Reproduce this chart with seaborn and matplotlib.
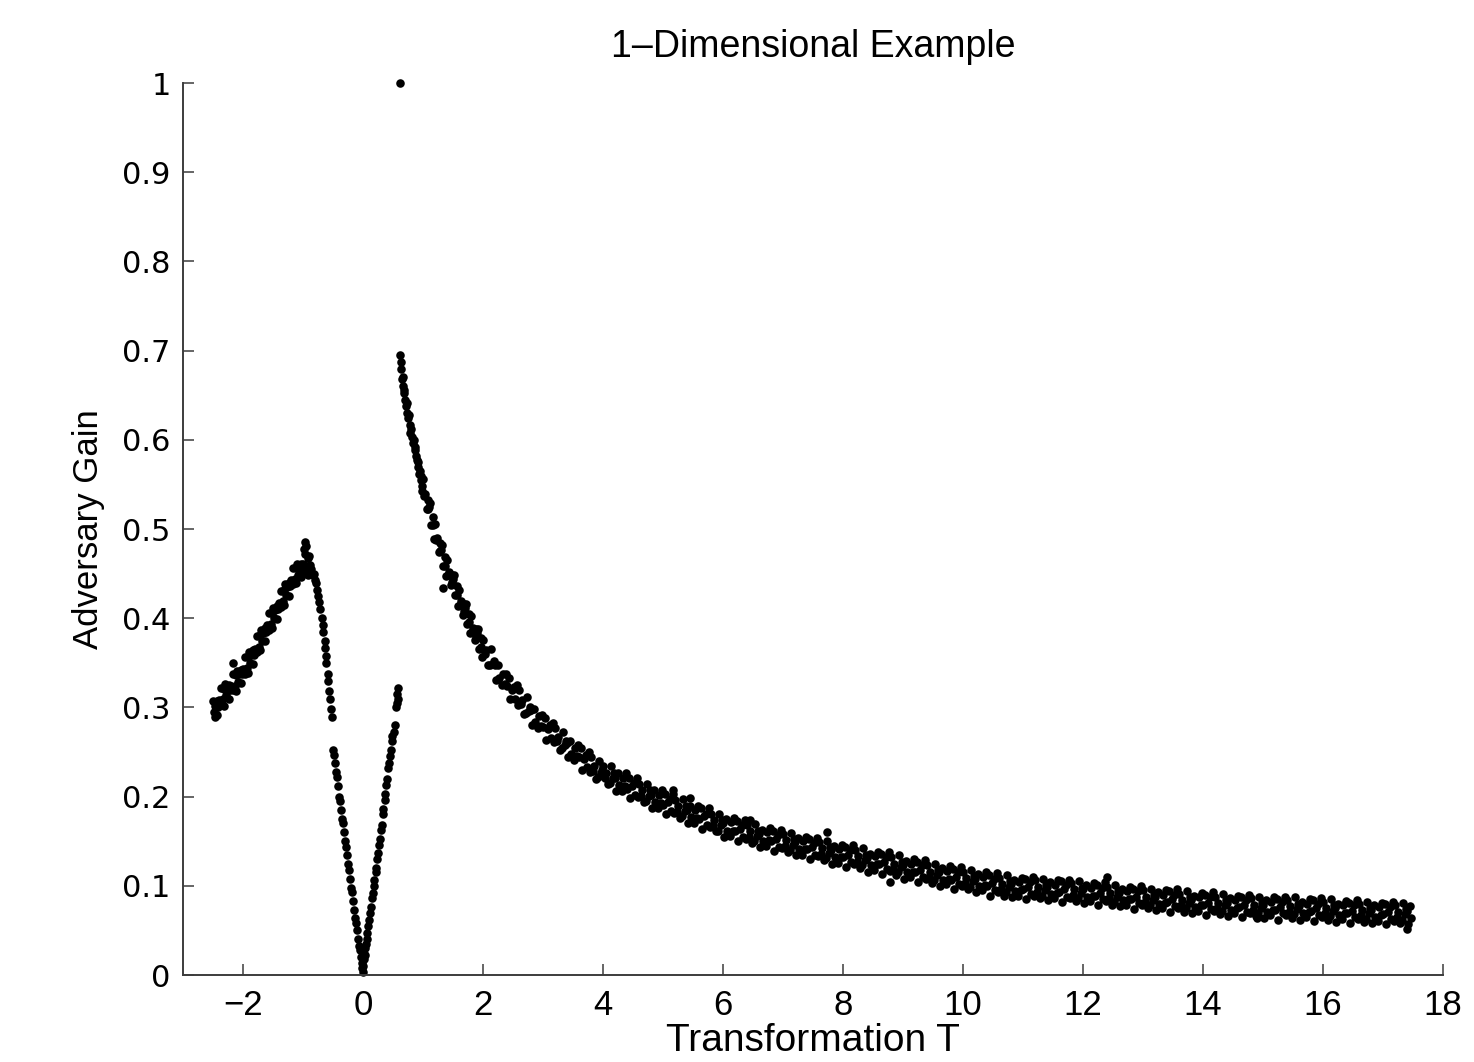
import pandas as pd
import matplotlib
matplotlib.use("Agg")
import matplotlib.pyplot as plt
import seaborn as sns

# values (T, adversary gain)
left_rise = [
    (-2.50, .307), (-2.48, .295), (-2.46, .302), (-2.44, .292), (-2.43, .307), (-2.41, .301),
    (-2.40, .308), (-2.37, .322), (-2.36, .303), (-2.34, .309), (-2.32, .321), (-2.31, .302),
    (-2.30, .326), (-2.28, .314), (-2.26, .323), (-2.24, .310), (-2.23, .325), (-2.21, .319),
    (-2.20, .324), (-2.17, .337), (-2.16, .319), (-2.14, .324), (-2.12, .336), (-2.11, .318),
    (-2.10, .341), (-2.08, .329), (-2.06, .338), (-2.04, .327), (-2.03, .342), (-2.01, .338),
    (-2.00, .343), (-1.97, .357), (-1.96, .338), (-1.94, .344), (-1.92, .356), (-1.91, .339),
    (-1.90, .362), (-1.88, .350), (-1.86, .359), (-1.84, .349), (-1.83, .364), (-1.81, .359),
    (-1.80, .366), (-1.77, .380), (-1.76, .362), (-1.74, .368), (-1.72, .381), (-1.71, .364),
    (-1.70, .387), (-1.68, .375), (-1.66, .384), (-1.64, .374), (-1.63, .389), (-1.61, .385),
    (-1.60, .392), (-1.57, .406), (-1.56, .387), (-1.54, .394), (-1.52, .406), (-1.51, .389),
    (-1.50, .412), (-1.48, .400), (-1.46, .409), (-1.44, .399), (-1.43, .414), (-1.41, .410),
    (-1.40, .417), (-1.37, .431), (-1.36, .413), (-1.34, .419), (-1.32, .432), (-1.31, .415),
    (-1.30, .438), (-1.28, .426), (-1.26, .435), (-1.24, .425), (-1.23, .440), (-1.21, .436),
    (-1.20, .443), (-1.17, .456), (-1.16, .438), (-1.14, .444), (-1.12, .456), (-1.11, .439),
    (-1.10, .461), (-1.08, .449), (-1.06, .456), (-1.04, .446), (-1.03, .461), (-1.01, .455),
    (-1.00, .461), (-0.97, .472), (-0.96, .452), (-0.94, .458), (-0.92, .468), (-0.91, .448),
    (-0.97, .486), (-0.95, .481), (-0.98, .478), (-0.90, .470), (-0.88, .460), (-0.86, .455),
    (-0.84, .448), (-2.17, .350), (-2.46, .289),
]

left_fall = [
    (-0.82, .450), (-0.80, .443), (-0.78, .440), (-0.76, .432), (-0.75, .425), (-0.73, .418),
    (-0.71, .410), (-0.69, .400), (-0.67, .392), (-0.66, .385), (-0.64, .375), (-0.63, .367),
    (-0.62, .358), (-0.61, .350), (-0.59, .338), (-0.58, .330), (-0.56, .318), (-0.55, .310),
    (-0.53, .298), (-0.52, .289), (-0.50, .252), (-0.49, .247), (-0.47, .238), (-0.45, .228),
    (-0.44, .222), (-0.42, .212), (-0.40, .200), (-0.39, .195), (-0.37, .185), (-0.35, .175),
    (-0.34, .170), (-0.32, .160), (-0.30, .150), (-0.29, .144), (-0.27, .135), (-0.25, .124),
    (-0.24, .118), (-0.22, .108), (-0.20, .098), (-0.19, .093), (-0.17, .083), (-0.15, .073),
    (-0.13, .064), (-0.12, .058), (-0.10, .050), (-0.08, .040), (-0.06, .033), (-0.05, .028),
    (-0.03, .020), (-0.02, .014), (-0.01, .008), (0.00, .003),
]

v_right = [
    (0.00, .010), (0.01, .018), (0.02, .024), (0.03, .030), (0.04, .022), (0.05, .035),
    (0.06, .040), (0.07, .047), (0.09, .055), (0.10, .062), (0.12, .070), (0.13, .076),
    (0.15, .086), (0.16, .092), (0.18, .100), (0.19, .106), (0.21, .115), (0.22, .120),
    (0.24, .130), (0.25, .137), (0.27, .146), (0.28, .152), (0.30, .163), (0.31, .168),
    (0.33, .180), (0.34, .186), (0.36, .196), (0.37, .203), (0.39, .213), (0.40, .220),
    (0.42, .232), (0.43, .238), (0.45, .246), (0.46, .252), (0.48, .262), (0.49, .268),
    (0.51, .272), (0.53, .280), (0.55, .300), (0.56, .305), (0.57, .315), (0.58, .322),
    (0.59, .310),
]

top_point = [(0.62, 1.0)]

head = [
    (0.62, .695), (0.63, .687), (0.64, .679), (0.65, .668), (0.66, .671), (0.67, .660),
    (0.68, .652), (0.69, .656), (0.70, .645), (0.71, .638), (0.73, .641), (0.74, .630),
    (0.75, .624), (0.77, .628), (0.78, .617), (0.79, .608), (0.80, .612), (0.82, .603),
    (0.83, .596), (0.85, .600), (0.86, .589), (0.87, .592), (0.88, .582), (0.90, .577),
    (0.91, .569), (0.92, .575), (0.93, .562), (0.95, .565), (0.96, .555), (0.97, .560),
    (0.98, .548), (0.99, .543),
]

band_1_2 = [
    (1.00, .556), (1.02, .537), (1.04, .539), (1.06, .522), (1.08, .532), (1.09, .523),
    (1.10, .525), (1.12, .529), (1.14, .505), (1.16, .504), (1.17, .513), (1.19, .489),
    (1.20, .506), (1.22, .488), (1.24, .490), (1.26, .474), (1.28, .484), (1.29, .475),
    (1.30, .477), (1.32, .482), (1.34, .459), (1.36, .459), (1.37, .469), (1.39, .447),
    (1.40, .465), (1.42, .448), (1.44, .452), (1.46, .437), (1.48, .449), (1.49, .441),
    (1.50, .444), (1.52, .449), (1.54, .426), (1.56, .426), (1.57, .436), (1.59, .414),
    (1.60, .432), (1.62, .415), (1.64, .419), (1.66, .404), (1.68, .416), (1.69, .408),
    (1.70, .411), (1.72, .416), (1.74, .394), (1.76, .396), (1.77, .405), (1.79, .383),
    (1.80, .402), (1.82, .385), (1.84, .389), (1.86, .376), (1.88, .388), (1.89, .379),
    (1.90, .383), (1.92, .388), (1.94, .366), (1.96, .368), (1.97, .378), (1.99, .356),
    (1.33, .434),
]

band_2_4 = [
    (2.00, .376), (2.03, .360), (2.05, .364), (2.08, .348), (2.11, .348), (2.13, .365),
    (2.16, .349), (2.19, .352), (2.20, .348), (2.22, .331), (2.25, .348), (2.27, .333),
    (2.31, .325), (2.34, .337), (2.36, .326), (2.38, .338), (2.40, .324), (2.43, .333),
    (2.45, .309), (2.49, .320), (2.52, .323), (2.54, .309), (2.57, .325), (2.59, .303),
    (2.60, .319), (2.63, .304), (2.65, .308), (2.68, .293), (2.71, .294), (2.73, .312),
    (2.76, .296), (2.79, .300), (2.80, .297), (2.82, .280), (2.85, .298), (2.87, .284),
    (2.91, .277), (2.94, .290), (2.96, .279), (2.98, .292), (3.00, .278), (3.03, .288),
    (3.05, .264), (3.09, .276), (3.12, .280), (3.14, .266), (3.17, .283), (3.19, .261),
    (3.20, .277), (3.23, .262), (3.25, .267), (3.28, .252), (3.31, .254), (3.33, .272),
    (3.36, .258), (3.39, .262), (3.40, .260), (3.42, .244), (3.45, .262), (3.47, .248),
    (3.51, .241), (3.54, .255), (3.56, .245), (3.58, .258), (3.60, .244), (3.63, .254),
    (3.65, .230), (3.69, .242), (3.72, .247), (3.74, .233), (3.77, .250), (3.79, .228),
    (3.80, .244), (3.83, .229), (3.85, .234), (3.88, .220), (3.91, .222), (3.93, .240),
    (3.96, .226), (3.99, .230),
]

band_4_7 = [
    (4.00, .234), (4.03, .221), (4.05, .227), (4.08, .214), (4.11, .215), (4.13, .234),
    (4.16, .221), (4.19, .227), (4.20, .221), (4.22, .206), (4.25, .226), (4.27, .213),
    (4.31, .206), (4.34, .221), (4.36, .212), (4.38, .226), (4.40, .209), (4.43, .221),
    (4.45, .198), (4.49, .212), (4.52, .215), (4.54, .202), (4.57, .221), (4.59, .200),
    (4.60, .214), (4.63, .201), (4.65, .207), (4.68, .194), (4.71, .195), (4.73, .214),
    (4.76, .201), (4.79, .207), (4.80, .202), (4.82, .187), (4.85, .207), (4.87, .194),
    (4.91, .187), (4.94, .202), (4.96, .193), (4.98, .207), (5.00, .191), (5.03, .203),
    (5.05, .180), (5.09, .194), (5.12, .197), (5.14, .184), (5.17, .203), (5.19, .182),
    (5.20, .196), (5.23, .183), (5.25, .189), (5.28, .176), (5.31, .178), (5.33, .197),
    (5.36, .184), (5.39, .190), (5.40, .185), (5.42, .170), (5.45, .190), (5.47, .177),
    (5.51, .170), (5.54, .185), (5.56, .176), (5.58, .190), (5.60, .175), (5.63, .187),
    (5.65, .164), (5.69, .178), (5.72, .181), (5.74, .168), (5.77, .187), (5.79, .166),
    (5.80, .181), (5.83, .168), (5.85, .174), (5.88, .161), (5.91, .162), (5.93, .181),
    (5.96, .168), (5.99, .174), (6.00, .170), (6.02, .155), (6.05, .175), (6.07, .162),
    (6.11, .156), (6.14, .171), (6.16, .162), (6.18, .176), (6.20, .161), (6.23, .173),
    (6.25, .150), (6.29, .164), (6.32, .168), (6.34, .155), (6.37, .174), (6.39, .153),
    (6.40, .168), (6.43, .155), (6.45, .161), (6.48, .148), (6.51, .150), (6.53, .169),
    (6.56, .156), (6.59, .162), (6.60, .158), (6.62, .143), (6.65, .163), (6.67, .150),
    (6.71, .145), (6.74, .160), (6.76, .151), (6.78, .165), (6.80, .150), (6.83, .162),
    (6.85, .139), (6.89, .153), (6.92, .157), (6.94, .144), (6.97, .163), (6.99, .142),
    (5.17, .207), (5.45, .198), (6.45, .174),
]

band_7_10 = [
    (7.00, .158), (7.03, .145), (7.05, .151), (7.08, .138), (7.11, .140), (7.13, .159),
    (7.16, .146), (7.19, .152), (7.20, .149), (7.22, .134), (7.25, .154), (7.27, .141),
    (7.31, .135), (7.34, .150), (7.36, .141), (7.38, .155), (7.40, .141), (7.43, .153),
    (7.45, .130), (7.49, .144), (7.52, .148), (7.54, .135), (7.57, .154), (7.59, .133),
    (7.60, .149), (7.63, .136), (7.65, .142), (7.68, .129), (7.71, .131), (7.73, .150),
    (7.76, .137), (7.79, .143), (7.80, .140), (7.82, .125), (7.85, .145), (7.87, .132),
    (7.91, .126), (7.94, .141), (7.96, .132), (7.98, .146), (8.00, .132), (8.03, .144),
    (8.05, .121), (8.09, .135), (8.12, .140), (8.14, .127), (8.17, .146), (8.19, .125),
    (8.20, .140), (8.23, .127), (8.25, .133), (8.28, .120), (8.31, .123), (8.33, .142),
    (8.36, .129), (8.39, .135), (8.40, .131), (8.42, .116), (8.45, .136), (8.47, .123),
    (8.51, .118), (8.54, .133), (8.56, .124), (8.58, .138), (8.60, .124), (8.63, .136),
    (8.65, .113), (8.69, .127), (8.72, .132), (8.74, .119), (8.77, .138), (8.79, .117),
    (8.80, .132), (8.83, .119), (8.85, .125), (8.88, .112), (8.91, .115), (8.93, .134),
    (8.96, .121), (8.99, .127), (9.00, .123), (9.02, .108), (9.05, .128), (9.07, .115),
    (9.11, .110), (9.14, .125), (9.16, .116), (9.18, .130), (9.20, .115), (9.23, .127),
    (9.25, .104), (9.29, .118), (9.32, .123), (9.34, .110), (9.37, .129), (9.39, .108),
    (9.40, .123), (9.43, .110), (9.45, .116), (9.48, .103), (9.51, .106), (9.53, .125),
    (9.56, .112), (9.59, .118), (9.60, .115), (9.62, .100), (9.65, .120), (9.67, .107),
    (9.71, .102), (9.74, .117), (9.76, .108), (9.78, .122), (9.80, .107), (9.83, .119),
    (9.85, .096), (9.89, .110), (9.92, .115), (9.94, .102), (9.97, .121), (9.99, .100),
    (7.73, .160), (8.78, .104),
]

band_10_14 = [
    (10.00, .116), (10.03, .103), (10.05, .109), (10.08, .096), (10.11, .099), (10.13, .118),
    (10.16, .105), (10.19, .111), (10.20, .108), (10.22, .093), (10.25, .113), (10.27, .100),
    (10.31, .095), (10.34, .110), (10.36, .101), (10.38, .115), (10.40, .100), (10.43, .112),
    (10.45, .089), (10.49, .103), (10.52, .108), (10.54, .095), (10.57, .114), (10.59, .093),
    (10.60, .109), (10.63, .096), (10.65, .102), (10.68, .089), (10.71, .093), (10.73, .112),
    (10.76, .099), (10.79, .105), (10.80, .102), (10.82, .087), (10.85, .107), (10.87, .094),
    (10.91, .089), (10.94, .104), (10.96, .095), (10.98, .109), (11.00, .096), (11.03, .108),
    (11.05, .085), (11.09, .099), (11.12, .104), (11.14, .091), (11.17, .110), (11.19, .089),
    (11.20, .106), (11.23, .093), (11.25, .099), (11.28, .086), (11.31, .089), (11.33, .108),
    (11.36, .095), (11.39, .101), (11.40, .099), (11.42, .084), (11.45, .104), (11.47, .091),
    (11.51, .086), (11.54, .101), (11.56, .092), (11.58, .106), (11.60, .093), (11.63, .105),
    (11.65, .082), (11.69, .096), (11.72, .101), (11.74, .088), (11.77, .107), (11.79, .086),
    (11.80, .103), (11.83, .090), (11.85, .096), (11.88, .083), (11.91, .086), (11.93, .105),
    (11.96, .092), (11.99, .098), (12.00, .096), (12.02, .081), (12.05, .101), (12.07, .088),
    (12.11, .083), (12.14, .098), (12.16, .089), (12.18, .103), (12.20, .089), (12.23, .101),
    (12.25, .078), (12.29, .092), (12.32, .098), (12.34, .085), (12.37, .104), (12.39, .083),
    (12.40, .099), (12.43, .086), (12.45, .092), (12.48, .079), (12.51, .082), (12.53, .101),
    (12.56, .088), (12.59, .094), (12.60, .092), (12.62, .077), (12.65, .097), (12.67, .084),
    (12.71, .079), (12.74, .094), (12.76, .085), (12.78, .099), (12.80, .085), (12.83, .097),
    (12.85, .074), (12.89, .088), (12.92, .094), (12.94, .081), (12.97, .100), (12.99, .079),
    (13.00, .095), (13.03, .082), (13.05, .088), (13.08, .075), (13.11, .078), (13.13, .097),
    (13.16, .084), (13.19, .090), (13.20, .088), (13.22, .073), (13.25, .093), (13.27, .080),
    (13.31, .075), (13.34, .090), (13.36, .081), (13.38, .095), (13.40, .082), (13.43, .094),
    (13.45, .071), (13.49, .085), (13.52, .090), (13.54, .077), (13.57, .096), (13.59, .075),
    (13.60, .091), (13.63, .078), (13.65, .084), (13.68, .071), (13.71, .075), (13.73, .094),
    (13.76, .081), (13.79, .087), (13.80, .084), (13.82, .069), (13.85, .089), (13.87, .076),
    (13.91, .072), (13.94, .087), (13.96, .078), (13.98, .092), (12.40, .110),
]

band_14_end = [
    (14.00, .078), (14.03, .090), (14.05, .067), (14.09, .081), (14.12, .087), (14.14, .074),
    (14.17, .093), (14.19, .072), (14.20, .088), (14.23, .075), (14.25, .081), (14.28, .068),
    (14.31, .072), (14.33, .091), (14.36, .078), (14.39, .084), (14.40, .081), (14.42, .066),
    (14.45, .086), (14.47, .073), (14.51, .069), (14.54, .084), (14.56, .075), (14.58, .089),
    (14.60, .076), (14.63, .088), (14.65, .065), (14.69, .079), (14.72, .084), (14.74, .071),
    (14.77, .090), (14.79, .069), (14.80, .086), (14.83, .073), (14.85, .079), (14.88, .066),
    (14.91, .069), (14.93, .088), (14.96, .075), (14.99, .081), (15.00, .079), (15.02, .064),
    (15.05, .084), (15.07, .071), (15.11, .067), (15.14, .082), (15.16, .073), (15.18, .087),
    (15.20, .073), (15.23, .085), (15.25, .062), (15.29, .076), (15.32, .082), (15.34, .069),
    (15.37, .088), (15.39, .067), (15.40, .084), (15.43, .071), (15.45, .077), (15.48, .064),
    (15.51, .068), (15.53, .087), (15.56, .074), (15.59, .080), (15.60, .077), (15.62, .062),
    (15.65, .082), (15.67, .069), (15.71, .065), (15.74, .080), (15.76, .071), (15.78, .085),
    (15.80, .072), (15.83, .084), (15.85, .061), (15.89, .075), (15.92, .080), (15.94, .067),
    (15.97, .086), (15.99, .065), (16.00, .082), (16.03, .069), (16.05, .075), (16.08, .062),
    (16.11, .066), (16.13, .085), (16.16, .072), (16.19, .078), (16.20, .075), (16.22, .060),
    (16.25, .080), (16.27, .067), (16.31, .063), (16.34, .078), (16.36, .069), (16.38, .083),
    (16.40, .069), (16.43, .081), (16.45, .058), (16.49, .072), (16.52, .078), (16.54, .065),
    (16.57, .084), (16.59, .063), (16.60, .080), (16.63, .067), (16.65, .073), (16.68, .060),
    (16.71, .063), (16.73, .082), (16.76, .069), (16.79, .075), (16.80, .073), (16.82, .058),
    (16.85, .078), (16.87, .065), (16.91, .061), (16.94, .076), (16.96, .067), (16.98, .081),
    (17.00, .068), (17.03, .080), (17.05, .057), (17.09, .071), (17.12, .076), (17.14, .063),
    (17.17, .082), (17.19, .061), (17.20, .078), (17.23, .065), (17.25, .071), (17.28, .058),
    (17.31, .062), (17.33, .081), (17.36, .068), (17.39, .074), (17.40, .072), (17.42, .057),
    (17.45, .077), (17.47, .064), (17.40, .052), (14.90, .064),
]

x_ticks = [-2, 0, 2, 4, 6, 8, 10, 12, 14, 16, 18]
y_ticks = [0, 0.1, 0.2, 0.3, 0.4, 0.5, 0.6, 0.7, 0.8, 0.9, 1]
y_tick_labels = ["0", "0.1", "0.2", "0.3", "0.4", "0.5", "0.6", "0.7", "0.8", "0.9", "1"]

segments = [left_rise, left_fall, v_right, top_point, head, band_1_2,
            band_2_4, band_4_7, band_7_10, band_10_14, band_14_end]
df = pd.concat([pd.DataFrame(s, columns=["T", "gain"]) for s in segments],
               ignore_index=True)

sns.set_style("ticks")
plt.rcParams["font.family"] = ["Liberation Sans", "DejaVu Sans"]
plt.rcParams["text.color"] = "black"
plt.rcParams["axes.labelcolor"] = "black"

fig = plt.figure(figsize=(14.74, 10.62), dpi=100)
ax = fig.add_axes([0.1242, 0.0819, 0.8548, 0.8399])

sns.scatterplot(data=df, x="T", y="gain", color="black", s=38,
                linewidth=0, legend=False, clip_on=False, ax=ax)

ax.set_xlim(-3, 18)
ax.set_ylim(0, 1)
ax.set_xticks(x_ticks)
ax.set_yticks(y_ticks)
ax.set_yticklabels(y_tick_labels, fontfamily="DejaVu Sans", fontsize=22)
for lab in ax.get_xticklabels():
    lab.set_fontsize(25)

spine_col = "#3c3c3c"
sns.despine(ax=ax)
for side in ["left", "bottom"]:
    ax.spines[side].set_color(spine_col)
    ax.spines[side].set_linewidth(1.4)
ax.tick_params(axis="both", direction="in", length=8, width=1.1,
               color=spine_col, labelcolor="black")
ax.tick_params(axis="x", pad=10)
ax.tick_params(axis="y", pad=9)

ax.set_title("1\u2013Dimensional Example", fontsize=27, pad=19, color="black")
ax.set_xlabel("Transformation T", fontsize=28, labelpad=1)
ax.set_ylabel("Adversary Gain", fontsize=25, labelpad=12)

fig.savefig("out.png", dpi=100)
